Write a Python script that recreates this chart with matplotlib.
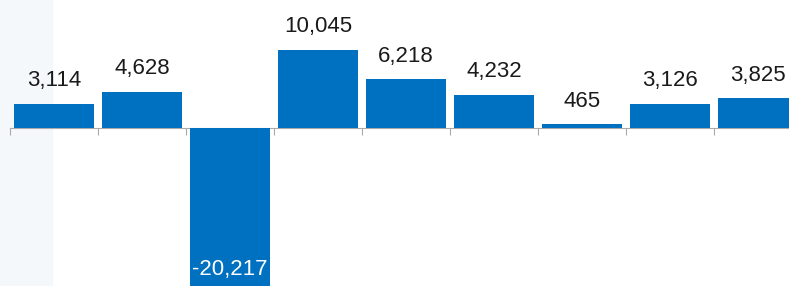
import numpy as np
import matplotlib.pyplot as plt
from matplotlib.patches import Rectangle

values = [3114, 4628, -20217, 10045, 6218, 4232, 465, 3126, 3825]
labels = ['3,114', '4,628', '-20,217', '10,045', '6,218', '4,232', '465', '3,126', '3,825']

plt.rcParams['font.family'] = ['Liberation Sans', 'DejaVu Sans']

W, H = 789, 286
fig = plt.figure(figsize=(W / 100, H / 100), dpi=100)
fig.patches.append(Rectangle((0, 0), 52 / W, 1, transform=fig.transFigure,
                             color='#f4f8fa', zorder=-1))

# axes runs a bit past the right edge, last bar gets cut like in the original
ax = fig.add_axes([10 / W, 0, 792 / W, 1])
ax.patch.set_alpha(0)

scale = 0.0078  # px per unit
x = np.arange(len(values))
ax.bar(x, values, width=0.91, color='#0070c0', zorder=2)
ax.set_xlim(-0.5, len(values) - 0.5)
ax.set_ylim(-158 / scale, 128 / scale)

for xi, v, lab in zip(x, values, labels):
    if v >= 0:
        ax.annotate(lab, (xi, v), xytext=(0, 9), textcoords='offset points',
                    ha='center', va='bottom', fontsize=16, color='#1a1a1a')
    else:
        ax.annotate(lab, (xi, v), xytext=(0, 4), textcoords='offset points',
                    ha='center', va='bottom', fontsize=16, color='white')

for s in ['top', 'left', 'right']:
    ax.spines[s].set_visible(False)
ax.spines['bottom'].set_position(('data', 0))
ax.spines['bottom'].set_color('#aaaaaa')
ax.spines['bottom'].set_zorder(1)
ax.set_xticks(np.arange(-0.5, len(values), 1.0))
ax.set_xticklabels([])
ax.tick_params(axis='x', length=5, color='#aaaaaa', direction='out')
ax.set_yticks([])

fig.savefig('out.png', dpi=100)
